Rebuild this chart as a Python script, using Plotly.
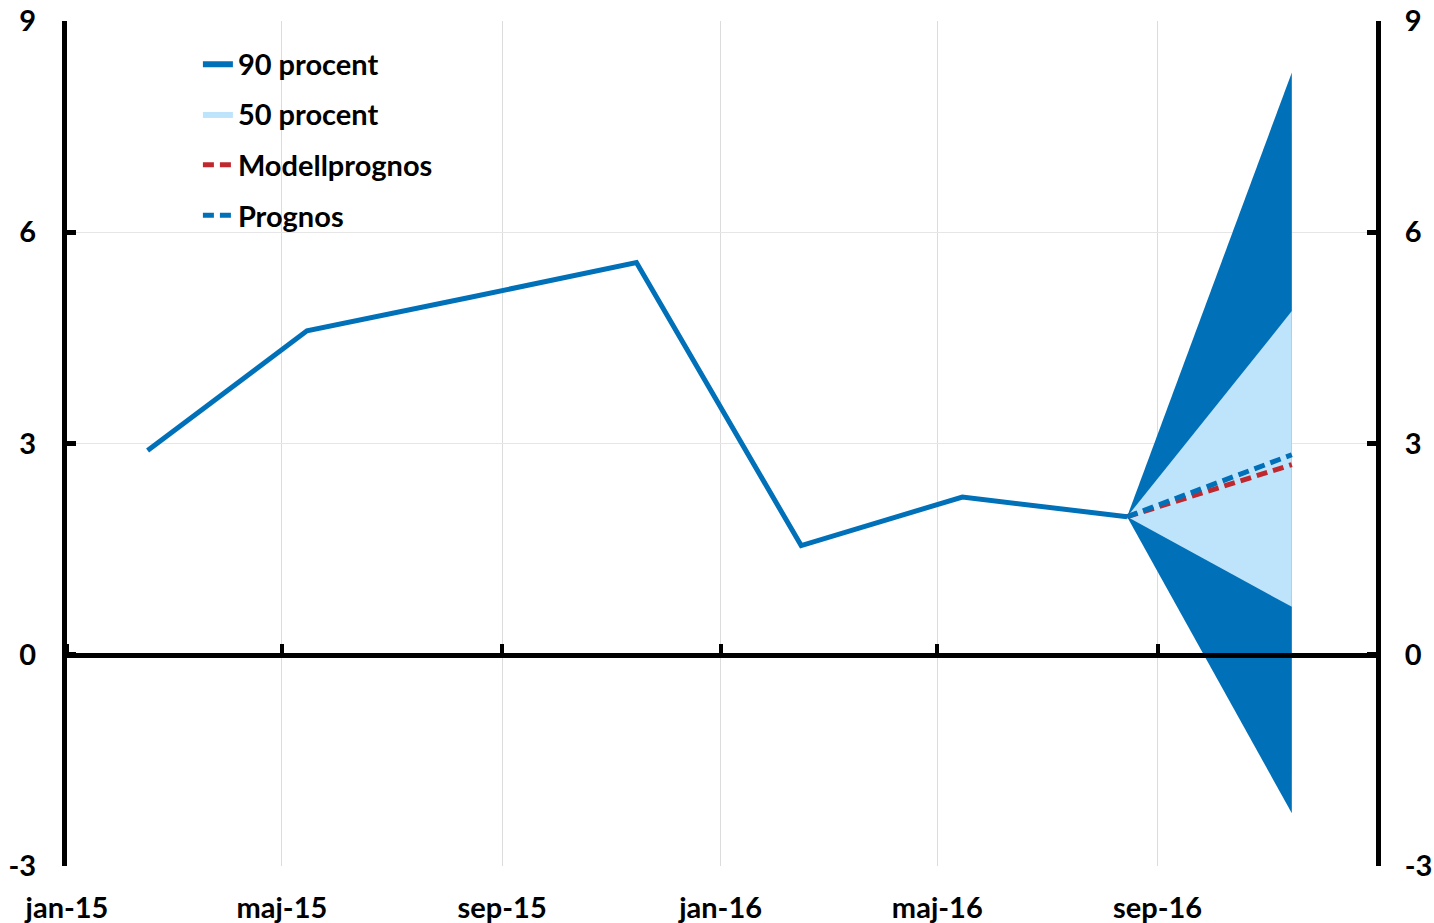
import plotly.graph_objects as go

# Data
dates = ["2015-02-15", "2015-05-15", "2015-08-15", "2015-11-15",
         "2016-02-15", "2016-05-15", "2016-08-15"]
outcome = [2.9, 4.6, 5.08, 5.57, 1.55, 2.24, 1.96]

fc_dates = ["2016-08-15", "2016-11-15"]
prognos = [1.96, 2.84]
modellprognos = [1.96, 2.70]
band90_upper = [1.96, 8.27]
band90_lower = [1.96, -2.25]
band50_upper = [1.96, 4.88]
band50_lower = [1.96, 0.68]

tick_dates = ["2015-01-01", "2015-05-01", "2015-09-01", "2016-01-01", "2016-05-01", "2016-09-01"]
tick_labels = ["jan-15", "maj-15", "sep-15", "jan-16", "maj-16", "sep-16"]
y_ticks = [-3, 0, 3, 6, 9]
y_labels = ["-3", "0", "3", "6", "9"]

DARK = "#0070B8"
LIGHT = "#BEE4FB"
RED = "#C0282F"
FONT = "Lato"
DASH = "11px,6px"

fig = go.Figure()

# 90% band polygon
fig.add_trace(go.Scatter(
    x=fc_dates + fc_dates[::-1],
    y=band90_upper + band90_lower[::-1],
    fill="toself", fillcolor=DARK, line=dict(width=0, color=DARK),
    mode="lines", name="90 procent", legendgroup="a", hoverinfo="skip"))
# 50% band polygon
fig.add_trace(go.Scatter(
    x=fc_dates + fc_dates[::-1],
    y=band50_upper + band50_lower[::-1],
    fill="toself", fillcolor=LIGHT, line=dict(width=0, color=LIGHT),
    mode="lines", name="50 procent", legendgroup="b", hoverinfo="skip"))
# outcome
fig.add_trace(go.Scatter(
    x=dates, y=outcome, mode="lines", line=dict(color=DARK, width=5),
    showlegend=False))
fig.add_trace(go.Scatter(
    x=fc_dates, y=modellprognos, mode="lines", name="Modellprognos",
    line=dict(color=RED, width=5, dash=DASH), legendgroup="c"))
fig.add_trace(go.Scatter(
    x=fc_dates, y=prognos, mode="lines", name="Prognos",
    line=dict(color=DARK, width=5, dash=DASH), legendgroup="d"))

# dummy trace for right axis
fig.add_trace(go.Scatter(x=[None], y=[None], yaxis="y2", showlegend=False))
# dummy for zero-line axis
fig.add_trace(go.Scatter(x=[None], y=[None], xaxis="x2", showlegend=False))

xrange = ["2015-01-01", "2017-01-01"]
tf = dict(family=FONT, size=29, color="black", weight="bold")

fig.update_layout(
    width=1434, height=923,
    margin=dict(l=67, r=58, t=21, b=57, autoexpand=False),
    plot_bgcolor="white", paper_bgcolor="white",
    font=dict(family=FONT, size=29, color="black", weight="bold"),
    showlegend=True,
    legend=dict(x=0.1, y=0.98, xanchor="left", yanchor="top",
                bgcolor="rgba(0,0,0,0)", traceorder="grouped",
                tracegroupgap=10, font=tf),
    xaxis=dict(range=xrange, type="date", tickvals=tick_dates, ticktext=tick_labels,
               showgrid=True, gridcolor="#DCDCDC", gridwidth=1, automargin=False,
               ticks="", showline=False, zeroline=False,
               tickfont=tf, ticklabelstandoff=22),
    xaxis2=dict(range=xrange, type="date", overlaying="x", anchor="free", position=0.25,
                side="top", tickvals=tick_dates, ticks="outside", ticklen=9, tickwidth=4,
                tickcolor="black", showline=True, linecolor="black", linewidth=5,
                showticklabels=False, showgrid=False, zeroline=False, automargin=False),
    yaxis=dict(range=[-3, 9], tickvals=y_ticks, ticktext=y_labels, showgrid=True,
               gridcolor="#E6E6E6", automargin=False,
               gridwidth=1, zeroline=False, showline=True, linecolor="black", linewidth=5,
               ticks="inside", ticklen=9, tickwidth=5, tickcolor="black",
               tickfont=tf, ticklabelstandoff=20),
    yaxis2=dict(range=[-3, 9], tickvals=y_ticks, ticktext=y_labels, overlaying="y",
                side="right", automargin=False,
                showgrid=False, zeroline=False, showline=True, linecolor="black",
                linewidth=5, ticks="inside", ticklen=9, tickwidth=5, tickcolor="black",
                tickfont=tf, ticklabelstandoff=18),
)

fig.write_html("out.html", config={"displayModeBar": False},
               post_script="document.body.style.margin='0';document.body.style.overflow='hidden';")
